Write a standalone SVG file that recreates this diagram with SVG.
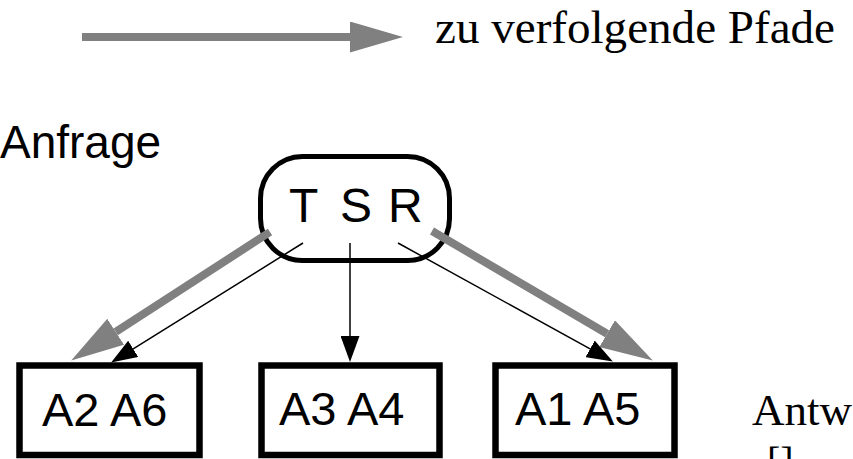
<svg xmlns="http://www.w3.org/2000/svg" width="853" height="459" viewBox="0 0 853 459">
  <style>
    .sans { font-family: "Liberation Sans", Arial, sans-serif; fill: #000; }
    .serif { font-family: "Liberation Serif", "Times New Roman", serif; fill: #000; }
    .box { fill: #fff; stroke: #000; stroke-width: 6.5; }
    .query { fill: #fff; stroke: #000; stroke-width: 5; }
    .path { stroke: #808080; stroke-width: 8; fill: none; }
    .edge { stroke: #000; stroke-width: 1.5; fill: none; }
  </style>
  <defs>
    <marker id="grayHead" markerUnits="userSpaceOnUse" markerWidth="53" markerHeight="31" refX="0" refY="15.5" orient="auto">
      <path d="M0,0 L53,15.5 L0,31 Z" fill="#808080"/>
    </marker>
    <marker id="blackHead" markerUnits="userSpaceOnUse" markerWidth="26" markerHeight="19" refX="0" refY="9.5" orient="auto">
      <path d="M0,0 L26,9.5 L0,19 Z" fill="#000"/>
    </marker>
  </defs>

  <!-- legend -->
  <g id="legend">
    <line class="path" x1="82" y1="37" x2="350" y2="37" marker-end="url(#grayHead)"/>
    <text class="serif" x="435" y="43" font-size="46" textLength="400" lengthAdjust="spacingAndGlyphs">zu verfolgende Pfade</text>
  </g>

  <!-- side labels -->
  <text id="label-anfrage" class="sans" x="0" y="158" font-size="46">Anfrage</text>
  <text id="label-antwort" class="serif" x="752" y="425" font-size="45">Antw</text>
  <text id="label-ref" class="serif" x="767" y="475" font-size="40">[]</text>

  <!-- query node -->
  <g id="node-tsr">
    <rect class="query" x="260.5" y="156.5" width="189" height="104" rx="42" ry="42"/>
    <text class="sans" y="222" font-size="48"><tspan x="289">T</tspan> <tspan x="340">S</tspan> <tspan x="388">R</tspan></text>
  </g>

  <!-- answer nodes -->
  <g id="node-a2a6">
    <rect class="box" x="19.5" y="365.5" width="180" height="89.5"/>
    <text class="sans" x="42" y="426" font-size="47">A2 A6</text>
  </g>
  <g id="node-a3a4">
    <rect class="box" x="261.5" y="365.5" width="178" height="89.5"/>
    <text class="sans" x="279" y="425" font-size="47">A3 A4</text>
  </g>
  <g id="node-a1a5">
    <rect class="box" x="495.5" y="365.5" width="179" height="89.5"/>
    <text class="sans" x="515" y="425" font-size="47">A1 A5</text>
  </g>

  <!-- connectors -->
  <g id="connectors">
    <line class="path" x1="270" y1="232" x2="115.7" y2="331.8" marker-end="url(#grayHead)"/>
    <line class="path" x1="432" y1="231" x2="607.1" y2="333.7" marker-end="url(#grayHead)"/>
    <line class="edge" x1="303" y1="243" x2="133.2" y2="348.8" marker-end="url(#blackHead)"/>
    <line class="edge" x1="350" y1="243" x2="350" y2="336" marker-end="url(#blackHead)"/>
    <line class="edge" x1="398" y1="243" x2="590.1" y2="348.9" marker-end="url(#blackHead)"/>
  </g>
</svg>
